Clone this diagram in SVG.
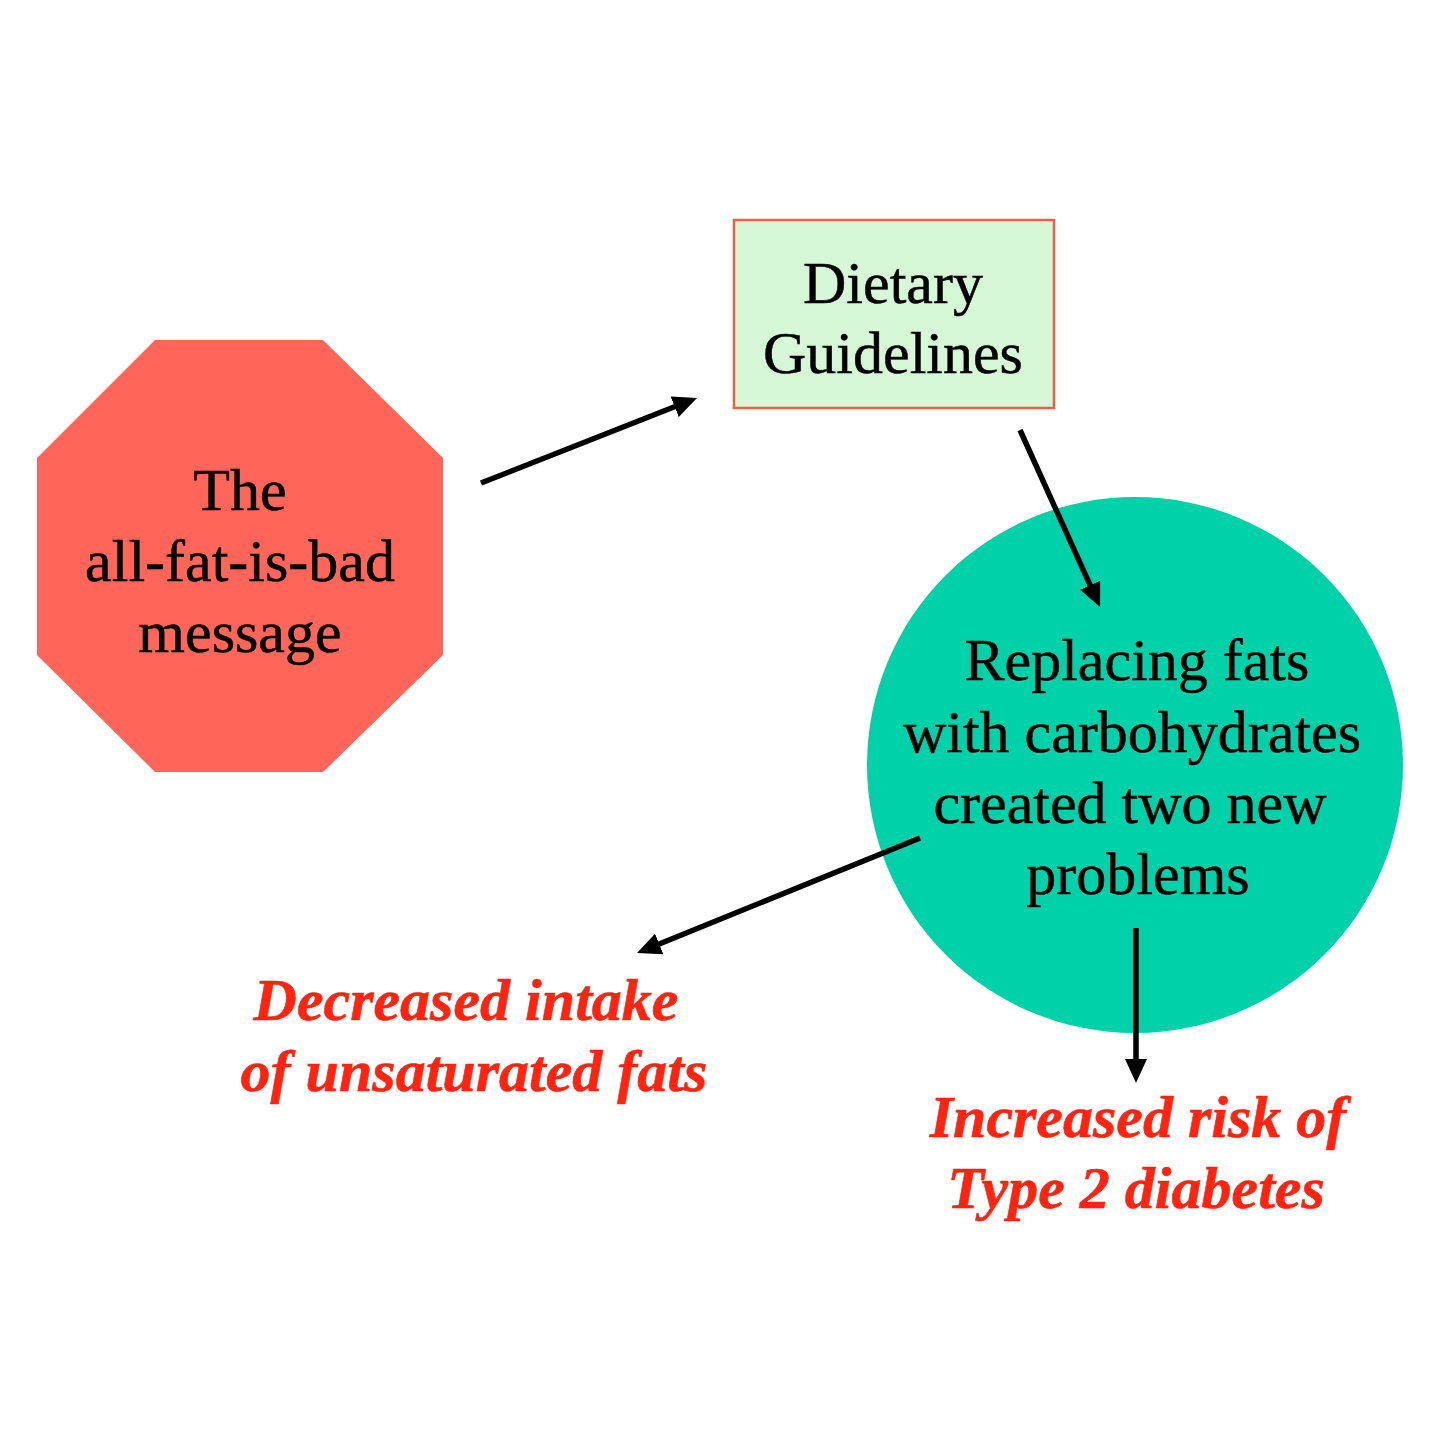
<svg xmlns="http://www.w3.org/2000/svg" width="1445" height="1445" viewBox="0 0 1445 1445">
<defs>
<style>
.lbl{font-family:"Liberation Serif","Times New Roman",serif;font-size:60px;fill:#000;stroke:#000;stroke-width:0.5;text-anchor:middle}
.out{font-family:"Liberation Serif","Times New Roman",serif;font-size:60px;font-weight:bold;font-style:italic;fill:#FF2410;stroke:#FF2410;stroke-width:0.6;text-anchor:middle}
.conn{stroke:#000;stroke-width:5.5;fill:none;marker-end:url(#ah)}
</style>
<marker id="ah" markerUnits="userSpaceOnUse" markerWidth="26" markerHeight="24" refX="4" refY="11" orient="auto">
<path d="M0,0 L24,11 L0,22 Z" fill="#000"/>
</marker>
</defs>
<rect width="1445" height="1445" fill="#fff"/>
<g id="node-message">
<polygon points="155,340 323,340 443,458 443,655 323,772 155,772 37,655 37,458" fill="#FF6659"/>
<text class="lbl" x="240" y="510">The</text>
<text class="lbl" x="240" y="581">all-fat-is-bad</text>
<text class="lbl" x="240" y="652">message</text>
</g>
<g id="node-guidelines">
<rect x="734" y="220" width="320" height="188" fill="#D6F8D6" stroke="#EE5F45" stroke-width="2.5"/>
<text class="lbl" x="893" y="303">Dietary</text>
<text class="lbl" x="893" y="373">Guidelines</text>
</g>
<g id="node-replacing">
<circle cx="1135" cy="765" r="268" fill="#00D1A8"/>
<text class="lbl" x="1137" y="680">Replacing fats</text>
<text class="lbl" x="1132" y="752">with carbohydrates</text>
<text class="lbl" x="1130" y="823">created two new</text>
<text class="lbl" x="1138" y="894">problems</text>
</g>
<g id="node-decreased">
<text class="out" x="466" y="1020">Decreased intake</text>
<text class="out" x="474" y="1091">of unsaturated fats</text>
</g>
<g id="node-increased">
<text class="out" x="1138" y="1137">Increased risk of</text>
<text class="out" x="1136" y="1208">Type 2 diabetes</text>
</g>
<g id="connectors">
<line class="conn" x1="481" y1="483" x2="678.4" y2="405.3"/>
<line class="conn" x1="1020" y1="430" x2="1091.8" y2="588.8"/>
<line class="conn" x1="920" y1="838" x2="655.5" y2="945.5"/>
<line class="conn" x1="1136" y1="928" x2="1136" y2="1063"/>
</g>
</svg>
